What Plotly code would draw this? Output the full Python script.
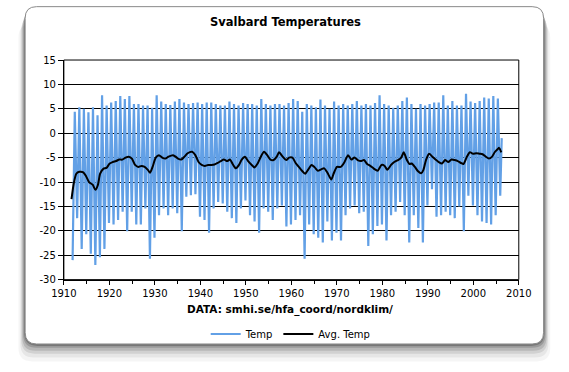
import plotly.graph_objects as go

W, H = 569, 372

# ---- data ----
trough_years = list(range(1912, 2007))
trough_vals = [-26.0, -17.4, -23.7, -20.7, -24.7, -27.0, -25.4, -23.7, -18.4, -18.7,
               -17.8, -16.1, -20.1, -16.1, -18.7, -18.7, -15.4, -25.7, -21.4, -16.8,
               -15.4, -16.8, -15.4, -16.4, -20.1, -13.0, -12.7, -12.5, -17.1, -17.8,
               -20.4, -15.4, -14.1, -14.4, -16.1, -17.4, -18.4, -15.4, -13.8, -16.8,
               -18.1, -20.4, -15.4, -16.1, -17.8, -15.4, -14.8, -19.1, -18.7, -17.8,
               -16.8, -25.7, -18.7, -20.7, -21.4, -22.4, -18.1, -22.0, -20.4, -22.0,
               -16.8, -15.4, -14.8, -16.4, -16.1, -23.1, -20.7, -19.0, -18.7, -22.0,
               -16.8, -16.1, -14.1, -16.8, -22.4, -16.8, -19.4, -22.4, -14.8, -11.5,
               -17.1, -16.8, -16.1, -16.8, -17.4, -15.0, -20.1, -12.8, -14.8, -16.8,
               -18.1, -18.4, -18.7, -16.8, -12.8]
peak_years = list(range(1912, 2006))
peak_vals = [4.4, 5.3, 5.0, 4.3, 5.3, 3.7, 7.8, 5.7, 6.3, 6.6, 7.6, 7.0, 7.6, 6.0, 6.0,
             5.7, 5.7, 5.2, 7.8, 6.5, 6.0, 5.8, 6.5,
             7.0, 6.3, 6.0, 6.2, 6.3, 6.0, 6.3, 6.3, 6.0, 5.7, 5.7, 6.5, 6.0, 5.7, 6.2,
             6.0, 6.0, 5.7, 7.0, 6.0, 5.7, 6.0, 6.0, 5.7, 6.2,
             7.0, 6.6, 4.4, 6.0, 5.7, 5.3, 6.9, 5.7, 5.0, 6.5, 5.7, 6.0, 5.7, 6.0, 6.6,
             5.7, 6.0, 5.7, 6.2, 7.8, 6.0, 5.7, 5.2, 5.7, 6.6,
             7.3, 6.0, 5.0, 6.0, 5.7, 6.0, 6.3, 6.3, 7.8, 5.7, 6.6, 5.7, 5.7, 8.1, 6.5,
             6.2, 6.6, 7.3, 7.1, 7.6, 7.1]
end_time = 2006.25
end_val = -1.0

avg_x = [1911.68, 1912.17, 1912.73, 1913.43, 1914.27, 1914.83, 1915.53, 1916.37, 1916.93,
         1917.48, 1917.97, 1918.67, 1919.37, 1920.07, 1920.77, 1921.47, 1922.17, 1922.86,
         1923.56, 1924.26, 1924.96, 1925.66, 1926.36, 1927.06, 1927.76, 1928.46, 1928.95,
         1929.5, 1930.2, 1930.9, 1931.6, 1932.3, 1933.0, 1934.0, 1934.7,
         1935.1, 1935.8, 1936.5, 1937.2, 1938.2, 1938.9, 1939.6, 1940.3, 1941.0, 1941.7,
         1942.4, 1943.1, 1943.8, 1944.5, 1945.2, 1945.9, 1946.5, 1947.1, 1947.8, 1948.5,
         1949.1, 1949.8, 1950.5, 1951.3, 1951.9, 1952.6, 1953.3, 1954.0, 1954.7, 1955.4,
         1956.1, 1956.8, 1957.3, 1958.1, 1958.9, 1959.5,
         1960.25, 1960.95, 1961.65, 1962.35, 1963.05, 1963.74, 1964.44, 1965.14, 1965.84,
         1966.54, 1967.24, 1967.94, 1968.78, 1969.33, 1970.03, 1970.87, 1971.57, 1972.48,
         1973.18, 1973.88, 1974.58, 1975.27, 1975.97, 1976.67, 1977.37, 1978.07, 1978.98,
         1979.82, 1980.52, 1981.08, 1981.92, 1982.62, 1983.45, 1984.15, 1984.71,
         1985.41, 1985.97, 1986.46, 1987.16, 1987.86, 1988.55, 1989.04, 1989.6, 1990.3,
         1991.0, 1991.7, 1992.4, 1993.1, 1993.8, 1994.5, 1995.2, 1995.9, 1996.6, 1997.3,
         1997.85, 1998.55, 1999.25, 1999.95, 2000.65, 2001.34, 2002.04, 2002.74, 2003.44,
         2004.14, 2004.7, 2005.33, 2005.68, 2006.16]
avg_y = [-13.5, -10.3, -8.3, -7.9, -8.0, -8.7, -10.0, -10.6, -11.6,
         -10.6, -8.3, -7.3, -7.1, -6.2, -5.9, -5.7, -5.4, -5.4,
         -5.0, -4.8, -5.2, -6.5, -6.9, -6.7, -6.9, -7.5, -8.1,
         -6.9, -5.0, -4.5, -5.0, -5.2, -4.8, -4.5, -4.9,
         -5.2, -5.4, -4.8, -4.1, -3.8, -4.5, -5.9, -6.5, -6.7, -6.5,
         -6.5, -6.4, -6.1, -5.7, -5.4, -5.7, -5.4, -6.3, -7.2, -6.5,
         -5.4, -4.8, -5.7, -6.5, -7.0, -6.2, -4.8, -3.8, -4.5, -5.4,
         -5.5, -4.8, -3.9, -4.8, -5.5, -5.0,
         -5.0, -6.1, -6.9, -7.7, -8.3, -7.4, -6.5, -7.0, -7.7,
         -7.4, -7.2, -8.1, -9.5, -8.2, -6.9, -6.9, -6.1, -4.5,
         -5.4, -5.0, -5.5, -5.7, -5.5, -6.3, -6.7, -7.2, -7.7,
         -6.5, -6.7, -7.5, -6.5, -5.9, -5.5, -5.0, -3.9,
         -5.5, -6.3, -6.2, -6.9, -7.8, -8.2, -7.5, -5.5, -4.2,
         -4.8, -5.4, -5.9, -6.2, -5.5, -5.9, -5.4, -5.5, -5.7, -6.1,
         -6.3, -4.9, -3.9, -4.2, -4.1, -4.2, -4.3, -4.8, -5.2,
         -4.8, -3.9, -3.3, -3.0, -3.9]

x_ticks = list(range(1910, 2011, 10))
y_ticks = list(range(-30, 16, 5))

# ---- build temp series (winter trough then summer peak each year) ----
tx, ty = [], []
for i, yr in enumerate(trough_years):
    tx.append(yr - 0.08)
    ty.append(trough_vals[i])
    if yr in peak_years:
        tx.append(yr + 0.40)
        ty.append(peak_vals[peak_years.index(yr)])
tx.append(end_time)
ty.append(end_val)

FONT = "DejaVu Sans"
BLUE = "#62a0e6"

fig = go.Figure()
fig.add_trace(go.Scatter(x=tx, y=ty, mode="lines", name="Temp",
                         line=dict(color=BLUE, width=2.2)))
fig.add_trace(go.Scatter(x=avg_x, y=avg_y, mode="lines", name="Avg. Temp",
                         line=dict(color="black", width=2, shape="spline", smoothing=0.6)))

L, R, T, B = 53.3, 530.0, 56.7, 283.0

def px(x):
    return x / W

def py(y):
    return 1 - y / H

def rrect(x0, y0, x1, y1, r):
    return (f"M {px(x0 + r)},{py(y0)} L {px(x1 - r)},{py(y0)} "
            f"Q {px(x1)},{py(y0)} {px(x1)},{py(y0 + r)} "
            f"L {px(x1)},{py(y1 - r)} Q {px(x1)},{py(y1)} {px(x1 - r)},{py(y1)} "
            f"L {px(x0 + r)},{py(y1)} Q {px(x0)},{py(y1)} {px(x0)},{py(y1 - r)} "
            f"L {px(x0)},{py(y0 + r)} Q {px(x0)},{py(y0)} {px(x0 + r)},{py(y0)} Z")

CX0, CY0, CX1, CY1 = 12.7, 1.7, 556.0, 349.3

shapes = []
# soft shadow under the card
for dy, grow, op in [(18, 7, 0.04), (14, 5, 0.06), (10, 4, 0.09), (7, 3, 0.12),
                     (4, 2, 0.16), (2, 1, 0.22)]:
    shapes.append(dict(type="path", xref="paper", yref="paper", layer="below",
                       path=rrect(CX0 - grow, CY0 + dy, CX1 + grow, CY1 + dy, 14),
                       fillcolor=f"rgba(0,0,0,{op})", line=dict(width=0)))
shapes.append(dict(type="path", xref="paper", yref="paper", layer="below",
                   path=rrect(CX0, CY0, CX1, CY1, 12),
                   fillcolor="white", line=dict(color="#8a8a8a", width=1)))
# plot frame
shapes.append(dict(type="rect", xref="paper", yref="paper", layer="above",
                   x0=px(L), x1=px(R), y0=py(B), y1=py(T),
                   line=dict(color="black", width=1), fillcolor="rgba(0,0,0,0)"))

fig.update_layout(
    width=W, height=H,
    margin=dict(l=0, r=0, t=0, b=0, pad=0),
    paper_bgcolor="white",
    plot_bgcolor="#cccccc",
    hovermode=False,
    font=dict(family=FONT, size=10, color="black"),
    title=dict(text="<b>Svalbard Temperatures</b>", x=px(285.5), xanchor="center",
               y=py(21.7), yanchor="middle", font=dict(family=FONT, size=11.5, color="black")),
    showlegend=True,
    legend=dict(orientation="h", x=px(291), xanchor="center", y=py(339), yanchor="middle",
                font=dict(family=FONT, size=10), bgcolor="rgba(0,0,0,0)",
                itemwidth=30, tracegroupgap=0),
    shapes=shapes,
    annotations=[dict(text="<b>DATA: smhi.se/hfa_coord/nordklim/</b>", xref="paper",
                      yref="paper", x=px(290.5), y=py(314), xanchor="center",
                      yanchor="middle", showarrow=False,
                      font=dict(family=FONT, size=10.5, color="black"))],
)
fig.update_xaxes(domain=[px(L), px(R)], range=[1910, 2010], tickmode="array",
                 tickvals=x_ticks, ticktext=[str(v) for v in x_ticks],
                 ticks="outside", ticklen=4, tickcolor="black", showgrid=False,
                 zeroline=False, showline=True, linecolor="black", linewidth=1,
                 minor=dict(dtick=5, ticks="outside", ticklen=3, tickcolor="black"),
                 tickfont=dict(family=FONT, size=10))
fig.update_yaxes(domain=[py(B), py(T)], range=[-30, 15], tickmode="array",
                 tickvals=y_ticks, ticktext=[str(v) for v in y_ticks],
                 ticks="outside", ticklen=5, tickcolor="black",
                 showgrid=True, gridcolor="black", gridwidth=1, zeroline=False,
                 showline=True, linecolor="black", linewidth=1,
                 tickfont=dict(family=FONT, size=10))

fig.write_html("out.html", config={"displayModeBar": False, "staticPlot": True},
               post_script="document.body.style.margin='0';document.body.style.overflow='hidden';")
